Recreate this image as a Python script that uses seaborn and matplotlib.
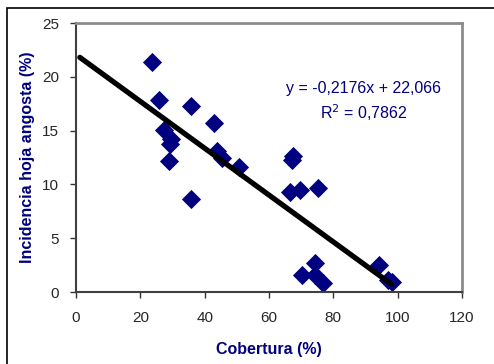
import numpy as np
import pandas as pd
import seaborn as sns
import matplotlib.pyplot as plt
from matplotlib.patches import Rectangle

# data
cobertura = [23.6, 25.8, 35.7, 42.9, 27.4, 29.5, 29.2, 43.8, 45.4, 50.7,
             28.9, 35.7, 67.6, 67.2, 66.5, 69.6, 75.2, 70.4, 74.3, 74.3,
             76.8, 94.2, 97.0, 98.1]
incidencia = [21.4, 17.8, 17.3, 15.7, 15.1, 14.2, 13.8, 13.1, 12.5, 11.6,
              12.2, 8.6, 12.6, 12.3, 9.3, 9.5, 9.7, 1.6, 2.7, 1.6,
              0.8, 2.5, 1.1, 0.9]
slope = -0.2176
intercept = 22.066
r2 = 0.7862
line_x = [1.2, 98.1]

navy = "#000080"

sns.set_style("ticks")
plt.rcParams['font.family'] = ['Liberation Sans', 'DejaVu Sans']

fig = plt.figure(figsize=(4.94, 3.64), dpi=100)
ax = fig.add_axes([0.1538, 0.1978, 0.7814, 0.739])

df = pd.DataFrame({"x": cobertura, "y": incidencia})
sns.scatterplot(data=df, x="x", y="y", marker="D", s=95, color=navy,
                edgecolor=navy, linewidth=0, ax=ax, zorder=2)

fit = pd.DataFrame({"x": line_x, "y": [slope * v + intercept for v in line_x]})
sns.lineplot(data=fit, x="x", y="y", color="black", linewidth=3.8, ax=ax, zorder=3)

ax.set_xlim(0, 120)
ax.set_ylim(0, 25)
ax.set_xticks(range(0, 121, 20))
ax.set_yticks(range(0, 26, 5))
ax.tick_params(labelsize=11, length=4, width=1, color="#333333")
ax.tick_params(axis="x", pad=10)
ax.tick_params(axis="y", pad=8)

ax.set_xlabel("Cobertura (%)", fontsize=11.5, fontweight="bold", color=navy, labelpad=12)
ax.set_ylabel("Incidencia hoja angosta (%)", fontsize=11.5, fontweight="bold", color=navy, labelpad=5)

for side in ["top", "right"]:
    ax.spines[side].set_visible(True)
    ax.spines[side].set_color("#8c8c8c")
    ax.spines[side].set_linewidth(2)
for side in ["left", "bottom"]:
    ax.spines[side].set_color("#404040")
    ax.spines[side].set_linewidth(1.5)

ax.text(0.745, 0.755, f"y = {slope:.4f}x + {intercept:.3f}".replace(".", ","),
        transform=ax.transAxes, ha="center", va="center", fontsize=11.5, color=navy)
ax.text(0.745, 0.665, "R$^2$ = " + f"{r2:.4f}".replace(".", ","),
        transform=ax.transAxes, ha="center", va="center", fontsize=11.5, color=navy)

# outer chart frame (only top and left edges visible)
fig.patches.append(Rectangle((7 / 494, -0.1), 1.2, (364 - 8) / 364 + 0.1,
                             transform=fig.transFigure, fill=False,
                             edgecolor="black", linewidth=1.2))

fig.savefig("out.png", dpi=100)
